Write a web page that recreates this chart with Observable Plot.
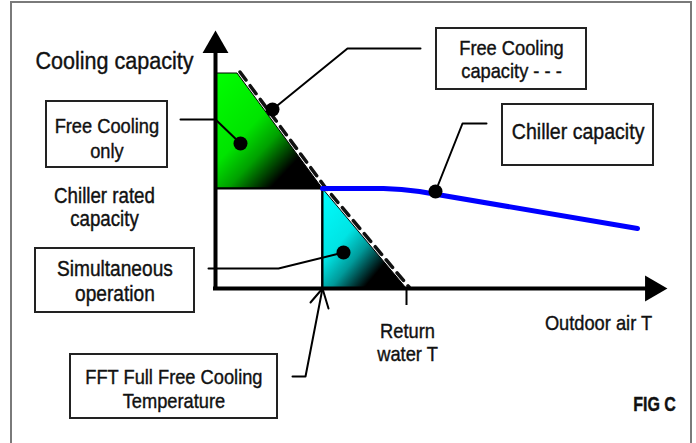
<!DOCTYPE html>
<html><head><meta charset="utf-8">
<script src="https://cdn.jsdelivr.net/npm/d3@7"></script>
<script src="https://cdn.jsdelivr.net/npm/@observablehq/plot@0.6"></script>
<style>
html,body{margin:0;padding:0;background:#fff;}
</style></head><body><div id="chart"></div>
<script>
// ---- Data (abstract units: x = outdoor air T, y = cooling capacity, % of chiller rated) ----
const axisMaxT = 22.6;
const axisMaxCap = 258;
const ratedCapacity = 100;
const fullFreeCoolingT = 5.35;     // FFT
const returnWaterT = 9.55;
const freeCoolingT   = [0, 1.1, 5.35, 9.55];
const freeCoolingCap = [215, 215, 100, 0];
const chillerT   = [5.35, 8.4, 9.3, 10.2, 21.1];
const chillerCap = [100, 100, 99, 97, 60];

// ---- Texts ----
const axisYLabel = "Cooling capacity";
const axisXLabel = "Outdoor air T";
const ratedLabel = ["Chiller rated", "capacity"];
const returnLabel = ["Return", "water T"];
const figLabel = "FIG C";
const boxTexts = [
  ["Free Cooling", "capacity - - -"],
  ["Chiller capacity"],
  ["Free Cooling", "only"],
  ["Simultaneous", "operation"],
  ["FFT Full Free Cooling", "Temperature"]
];

// ---- Layout of annotations (in chart units) ----
const boxLayout = [
  {x1: 11.05, x2: 18.55, y1: 260, y2: 199, cx: 14.8,  base: [234, 211], size: 21},
  {x1: 14.35, x2: 21.9,  y1: 184, y2: 123, cx: 18.13, base: [150], size: 22.5},
  {x1: -8.45, x2: -2.4,  y1: 187, y2: 121, cx: -5.43, base: [156, 131], size: 21},
  {x1: -9.0,  x2: -1.05, y1: 40,  y2: -24, cx: -5.03, base: [13, -12], size: 22},
  {x1: -7.25, x2: 3.1,   y1: -66, y2: -130, cx: -2.08, base: [-95, -119], size: 21}
];
const leaders = [
  [[10.25, 240], [6.6, 240], [2.85, 179]],
  [[13.55, 165], [12.35, 165], [11.0, 97]],
  [[-1.75, 169], [0, 169], [1.25, 145]],
  [[-0.35, 20], [3.15, 20], [6.4, 36]],
  [[3.85, -88], [4.5, -88], [5.35, 0]],
  [[4.75, -14], [5.35, 0], [5.65, -20]]
];
const leaderDots = [[2.85, 179], [11.0, 97], [1.25, 145], [6.4, 36]];

// ---- Derived tables ----
const fc = freeCoolingT.map((t, i) => ({t, cap: freeCoolingCap[i]}));
const chiller = chillerT.map((t, i) => ({t, cap: chillerCap[i]}));
const greenArea = fc.filter(d => d.t <= fullFreeCoolingT).map(d => ({t: d.t, lo: ratedCapacity, hi: d.cap}));
const cyanArea = fc.filter(d => d.t >= fullFreeCoolingT).map(d => ({t: d.t, lo: 0, hi: d.cap}));
const boxes = boxLayout.map((b, i) => ({...b, lines: boxTexts[i]}));
const boxLines = boxes.flatMap(b => b.lines.map((s, j) => ({text: s, t: b.cx, cap: b.base[j], size: b.size})));
const freeTexts = [
  {text: axisYLabel, t: -5.05, cap: 220, size: 24.5},
  {text: ratedLabel[0], t: -5.55, cap: 86, size: 21.5},
  {text: ratedLabel[1], t: -5.55, cap: 63, size: 21.5},
  {text: returnLabel[0], t: 9.6, cap: -49, size: 21},
  {text: returnLabel[1], t: 9.6, cap: -72, size: 21},
  {text: axisXLabel, t: 19.15, cap: -41, size: 21}
];
const leaderPts = leaders.flatMap((l, k) => l.map(([t, cap]) => ({t, cap, k})));

const svg = Plot.plot({
  width: 696, height: 443,
  marginLeft: 215, marginRight: 29, marginTop: 30, marginBottom: 155,
  x: {domain: [0, axisMaxT], axis: null},
  y: {domain: [0, axisMaxCap], axis: null},
  style: {fontFamily: "'Liberation Sans', Arial, sans-serif", background: "#fff", color: "#111", overflow: "visible"},
  marks: [
    // outer frame
    Plot.rect([0], {x1: -10.2, x2: 23.8, y1: 286, y2: -170, fill: "none", stroke: "#7a7a7a", strokeWidth: 2}),
    // regions
    Plot.areaY(greenArea, {x: "t", y1: "lo", y2: "hi", fill: "url(#gGreen)", stroke: "#000", strokeWidth: 1}),
    Plot.areaY(cyanArea, {x: "t", y1: "lo", y2: "hi", fill: "url(#gCyan)", stroke: "#000", strokeWidth: 1}),
    Plot.ruleY([ratedCapacity], {x1: 0, x2: fullFreeCoolingT, stroke: "#000", strokeWidth: 2}),
    Plot.ruleX([fullFreeCoolingT], {y1: 0, y2: ratedCapacity, stroke: "#000", strokeWidth: 2}),
    Plot.ruleX([returnWaterT], {y1: 0, y2: -17, stroke: "#000", strokeWidth: 2}),
    // free cooling capacity (dashed)
    Plot.line(fc.filter(d => d.t >= 1.1), {x: "t", y: "cap", dx: 2.5, dy: -1.5, stroke: "#111", strokeWidth: 3.5, strokeDasharray: "10,7"}),
    // chiller capacity
    Plot.line(chiller, {x: "t", y: "cap", stroke: "#0000ff", strokeWidth: 5}),
    // axes
    Plot.ruleX([0], {y1: -1, y2: axisMaxCap - 15, stroke: "#000", strokeWidth: 4}),
    Plot.ruleY([0], {x1: -0.1, x2: axisMaxT - 0.75, stroke: "#000", strokeWidth: 4}),
    Plot.dot([0], {x: 0, y: axisMaxCap - 15, symbol: "triangle", r: 9.6, fill: "#000"}),
    Plot.dot([0], {x: axisMaxT - 0.75, y: 0, symbol: "triangle", r: 9.6, rotate: 90, fill: "#000"}),
    // leaders
    Plot.line(leaderPts, {x: "t", y: "cap", z: "k", stroke: "#000", strokeWidth: 2}),
    Plot.dot(leaderDots, {x: d => d[0], y: d => d[1], r: 7, fill: "#000"}),
    // boxes
    Plot.rect(boxes, {x1: "x1", x2: "x2", y1: "y1", y2: "y2", fill: "#fff", stroke: "#222", strokeWidth: 2}),
    Plot.text(boxLines, {x: "t", y: "cap", text: "text", textAnchor: "middle", lineAnchor: "bottom", fontSize: d => d.size}),
    Plot.text(freeTexts, {x: "t", y: "cap", text: "text", textAnchor: "middle", lineAnchor: "bottom", fontSize: d => d.size}),
    Plot.text([figLabel], {x: 21.95, y: -122, text: d => d, textAnchor: "middle", lineAnchor: "bottom", fontSize: 20, fontWeight: "bold"})
  ]
});

// condensed look: narrow each label horizontally around its anchor
d3.select(svg).selectAll("text").each(function () {
  const sx = this.textContent === figLabel ? 0.8 : this.textContent === axisYLabel ? 0.88 : 0.87;
  const tr = this.getAttribute("transform") || "";
  this.setAttribute("transform", tr + ` scale(${sx},1)`);
  this.setAttribute("stroke", "#111");
  this.setAttribute("stroke-width", 0.4);
});

const defs = d3.select(svg).insert("defs", ":first-child");
function grad(id, stops) {
  const g = defs.append("linearGradient").attr("id", id).attr("x1", 0).attr("y1", 0).attr("x2", 1).attr("y2", 1);
  stops.forEach(([o, c]) => g.append("stop").attr("offset", o).attr("stop-color", c));
}
grad("gGreen", [[0, "#00ff00"], [0.4, "#00e400"], [0.56, "#00a000"], [0.76, "#000"]]);
grad("gCyan", [[0, "#00ffff"], [0.38, "#00e4e4"], [0.55, "#009a9a"], [0.75, "#000"]]);
document.getElementById("chart").appendChild(svg);
</script></body></html>
